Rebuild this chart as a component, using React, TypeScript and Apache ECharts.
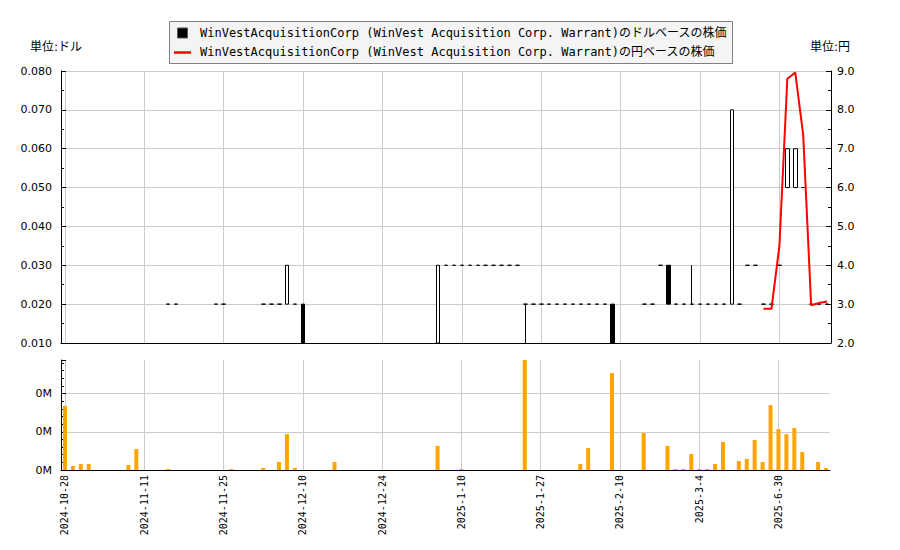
import React, { useEffect, useRef } from "react";
import * as echarts from "echarts";

// Trading days shown on the category axis
const dates: string[] = [
  "2024-10-28", "2024-10-29", "2024-10-30", "2024-10-31", "2024-11-1",
  "2024-11-4", "2024-11-5", "2024-11-6", "2024-11-7", "2024-11-8",
  "2024-11-11", "2024-11-12", "2024-11-13", "2024-11-14", "2024-11-15",
  "2024-11-18", "2024-11-19", "2024-11-20", "2024-11-21", "2024-11-22",
  "2024-11-25", "2024-11-26", "2024-11-27", "2024-11-29", "2024-12-2",
  "2024-12-3", "2024-12-4", "2024-12-5", "2024-12-6", "2024-12-9",
  "2024-12-10", "2024-12-11", "2024-12-12", "2024-12-13", "2024-12-16",
  "2024-12-17", "2024-12-18", "2024-12-19", "2024-12-20", "2024-12-23",
  "2024-12-24", "2024-12-26", "2024-12-27", "2024-12-30", "2024-12-31",
  "2025-1-2", "2025-1-3", "2025-1-6", "2025-1-7", "2025-1-8",
  "2025-1-10", "2025-1-13", "2025-1-14", "2025-1-15", "2025-1-16",
  "2025-1-17", "2025-1-21", "2025-1-22", "2025-1-23", "2025-1-24",
  "2025-1-27", "2025-1-28", "2025-1-29", "2025-1-30", "2025-1-31",
  "2025-2-3", "2025-2-4", "2025-2-5", "2025-2-6", "2025-2-7",
  "2025-2-10", "2025-2-11", "2025-2-12", "2025-2-13", "2025-2-14",
  "2025-2-18", "2025-2-19", "2025-2-20", "2025-2-21", "2025-2-24",
  "2025-3-4", "2025-3-5", "2025-3-6", "2025-3-10", "2025-3-14",
  "2025-3-21", "2025-4-2", "2025-4-15", "2025-5-6", "2025-6-12",
  "2025-6-30", "2025-7-1", "2025-7-2", "2025-7-3", "2025-7-7",
  "2025-7-8", "2025-7-9",
];

// [open, close, low, high] in dollars, null = no trade shown
const f2 = [0.02, 0.02, 0.02, 0.02];
const f3 = [0.03, 0.03, 0.03, 0.03];
const dollarCandles: (number[] | null)[] = [
  null, null, null, null, null, null, null, null, null, null,
  null, null, null, f2, f2, null, null, null, null, f2,
  f2, null, null, null, null, f2, f2, f2, [0.02, 0.03, 0.02, 0.03], f2,
  [0.02, 0.01, 0.01, 0.02], null, null, null, null, null, null, null, null, null,
  null, null, null, null, null, null, null, [0.01, 0.03, 0.01, 0.03], f3, f3,
  f3, f3, f3, f3, f3, f3, f3, f3, [0.02, 0.02, 0.01, 0.02], f2,
  f2, f2, f2, f2, f2, f2, f2, f2, f2, [0.02, 0.01, 0.01, 0.02],
  null, null, null, f2, f2, f3, [0.03, 0.02, 0.02, 0.03], f2, f2, [0.02, 0.02, 0.02, 0.03],
  f2, f2, f2, f2, [0.02, 0.07, 0.02, 0.07], f2, f3, f3, f2, f2,
  f3, [0.05, 0.06, 0.05, 0.06], [0.05, 0.06, 0.05, 0.06], [0.05, 0.05, 0.05, 0.05], f2, f2, f2,
];

// yen close, only the last days have it
const yenClose: (number | null)[] = [
  ...Array(88).fill(null),
  2.88, 2.88, 4.5, 8.8, 8.96, 7.35, 2.97, 3.03, 3.07,
];

// traded volume (shares)
const volumes: number[] = [
  167500, 10500, 15700, 15700, 0, 0, 0, 0, 13000, 55000,
  0, 0, 0, 2600, 0, 0, 0, 0, 0, 0,
  0, 2600, 0, 0, 0, 5200, 0, 21000, 94000, 5200,
  0, 0, 0, 0, 21000, 0, 0, 0, 0, 0,
  0, 0, 0, 0, 0, 0, 0, 63000, 0, 0,
  2600, 0, 0, 0, 0, 0, 0, 0, 295000, 0,
  0, 0, 0, 0, 0, 15700, 57600, 0, 0, 254000,
  0, 0, 0, 97000, 0, 0, 63000, 2600, 2600, 42000,
  2600, 2600, 15700, 73300, 0, 23600, 28800, 78500, 21000, 170000,
  107000, 94000, 110000, 47000, 0, 21000, 5000,
];

const dollarName =
  "WinVestAcquisitionCorp (WinVest Acquisition Corp. Warrant)のドルベースの株価";
const yenName =
  "WinVestAcquisitionCorp (WinVest Acquisition Corp. Warrant)の円ベースの株価";

const MONO = '"DejaVu Sans Mono", "Noto Sans CJK JP", monospace';
const SANS = '"DejaVu Sans", "Noto Sans CJK JP", sans-serif';

const App: React.FC = () => {
  const chartRef = useRef<HTMLDivElement>(null);

  useEffect(() => {
    if (!chartRef.current) return;
    const chart = echarts.init(chartRef.current, undefined, { renderer: "svg" });

    const tickStyle = { color: "#000", width: 1 };
    const gridLine = { lineStyle: { color: "#cccccc", width: 1 } };

    const catAxis = (gridIndex: number, showLabel: boolean) => ({
      type: "category",
      gridIndex,
      data: dates,
      boundaryGap: true,
      axisLine: { lineStyle: tickStyle },
      axisTick: { inside: true, length: 5, interval: 9, alignWithLabel: true, lineStyle: tickStyle },
      axisLabel: {
        show: showLabel,
        interval: 9,
        rotate: 90,
        margin: 5,
        color: "#000",
        fontSize: 10,
        fontFamily: MONO,
      },
      splitLine: { show: true, interval: 9, alignWithLabel: true, ...gridLine },
    });

    const options = {
      animation: false,
      textStyle: { fontFamily: SANS },
      grid: [
        { left: 61, top: 71, width: 770, height: 272 },
        { left: 61, top: 360, width: 769, height: 110 },
      ],
      xAxis: [catAxis(0, false), catAxis(1, true)],
      yAxis: [
        {
          type: "value",
          gridIndex: 0,
          position: "left",
          min: 0.01,
          max: 0.08,
          interval: 0.01,
          axisLine: { show: true, lineStyle: tickStyle },
          axisTick: { show: true, inside: true, length: 5, lineStyle: tickStyle },
          minorTick: { show: true, splitNumber: 2, length: 3, lineStyle: tickStyle },
          axisLabel: {
            formatter: (v: number) => v.toFixed(3),
            color: "#000",
            fontSize: 11,
            fontFamily: SANS,
            margin: 9,
          },
          splitLine: gridLine,
        },
        {
          type: "value",
          gridIndex: 0,
          position: "right",
          min: 2,
          max: 9,
          interval: 1,
          axisLine: { show: true, lineStyle: tickStyle },
          axisTick: { show: true, inside: true, length: 5, lineStyle: tickStyle },
          minorTick: { show: true, splitNumber: 2, length: 3, lineStyle: tickStyle },
          axisLabel: {
            formatter: (v: number) => v.toFixed(1),
            color: "#000",
            fontSize: 11,
            fontFamily: SANS,
            margin: 6,
          },
          splitLine: { show: false },
        },
        {
          type: "value",
          gridIndex: 1,
          min: 0,
          max: 288000,
          interval: 100000,
          axisLine: { show: true, lineStyle: tickStyle },
          axisTick: { show: true, inside: true, length: 5, lineStyle: tickStyle },
          minorTick: { show: true, splitNumber: 5, length: 3, lineStyle: tickStyle },
          axisLabel: {
            formatter: (v: number) => `${(v / 1000000).toFixed(0)}M`,
            showMaxLabel: false,
            color: "#000",
            fontSize: 11,
            fontFamily: SANS,
            margin: 9,
          },
          splitLine: { showMaxLine: false, ...gridLine },
        },
      ],
      series: [
        {
          name: dollarName,
          type: "candlestick",
          xAxisIndex: 0,
          yAxisIndex: 0,
          barWidth: 4,
          data: dollarCandles.map((c) => (c ? c : ["-", "-", "-", "-"])),
          itemStyle: {
            color: "#ffffff",
            color0: "#000000",
            borderColor: "#000000",
            borderColor0: "#000000",
            borderWidth: 1,
          },
        },
        {
          name: yenName,
          type: "line",
          xAxisIndex: 0,
          yAxisIndex: 1,
          data: yenClose.map((v) => (v === null ? "-" : v)),
          symbol: "none",
          lineStyle: { color: "#ff0000", width: 2 },
          itemStyle: { color: "#ff0000" },
        },
        {
          type: "bar",
          xAxisIndex: 1,
          yAxisIndex: 2,
          barWidth: 4,
          data: volumes,
          itemStyle: { color: "#ffa500" },
        },
      ],
      graphic: [
        {
          type: "rect",
          shape: { x: 169.5, y: 21.5, width: 563, height: 42 },
          style: { fill: "#f4f4f4", stroke: "#808080", lineWidth: 1 },
        },
        {
          type: "rect",
          shape: { x: 177.5, y: 28, width: 10, height: 10 },
          style: { fill: "#000", stroke: "#555", lineWidth: 1 },
        },
        {
          type: "line",
          shape: { x1: 174, y1: 52.5, x2: 191, y2: 52.5 },
          style: { stroke: "#ff0000", lineWidth: 2.5 },
        },
        {
          type: "text",
          x: 200,
          y: 33,
          style: {
            text: dollarName,
            fill: "#000",
            font: `12px ${MONO}`,
            verticalAlign: "middle",
            textVerticalAlign: "middle",
          },
        },
        {
          type: "text",
          x: 200,
          y: 52,
          style: {
            text: yenName,
            fill: "#000",
            font: `12px ${MONO}`,
            verticalAlign: "middle",
            textVerticalAlign: "middle",
          },
        },
        {
          type: "text",
          x: 30,
          y: 47,
          style: {
            text: "単位:ドル",
            fill: "#000",
            font: `12px ${SANS}`,
            verticalAlign: "middle",
            textVerticalAlign: "middle",
          },
        },
        {
          type: "text",
          x: 810,
          y: 47,
          style: {
            text: "単位:円",
            fill: "#000",
            font: `12px ${SANS}`,
            verticalAlign: "middle",
            textVerticalAlign: "middle",
          },
        },
      ],
    };

    chart.setOption(options as any);

    return () => {
      chart.dispose();
    };
  }, []);

  return (
    <div
      ref={chartRef}
      style={{ position: "absolute", left: 0, top: 0, width: "900px", height: "550px", background: "#fff" }}
    />
  );
};

export default App;
